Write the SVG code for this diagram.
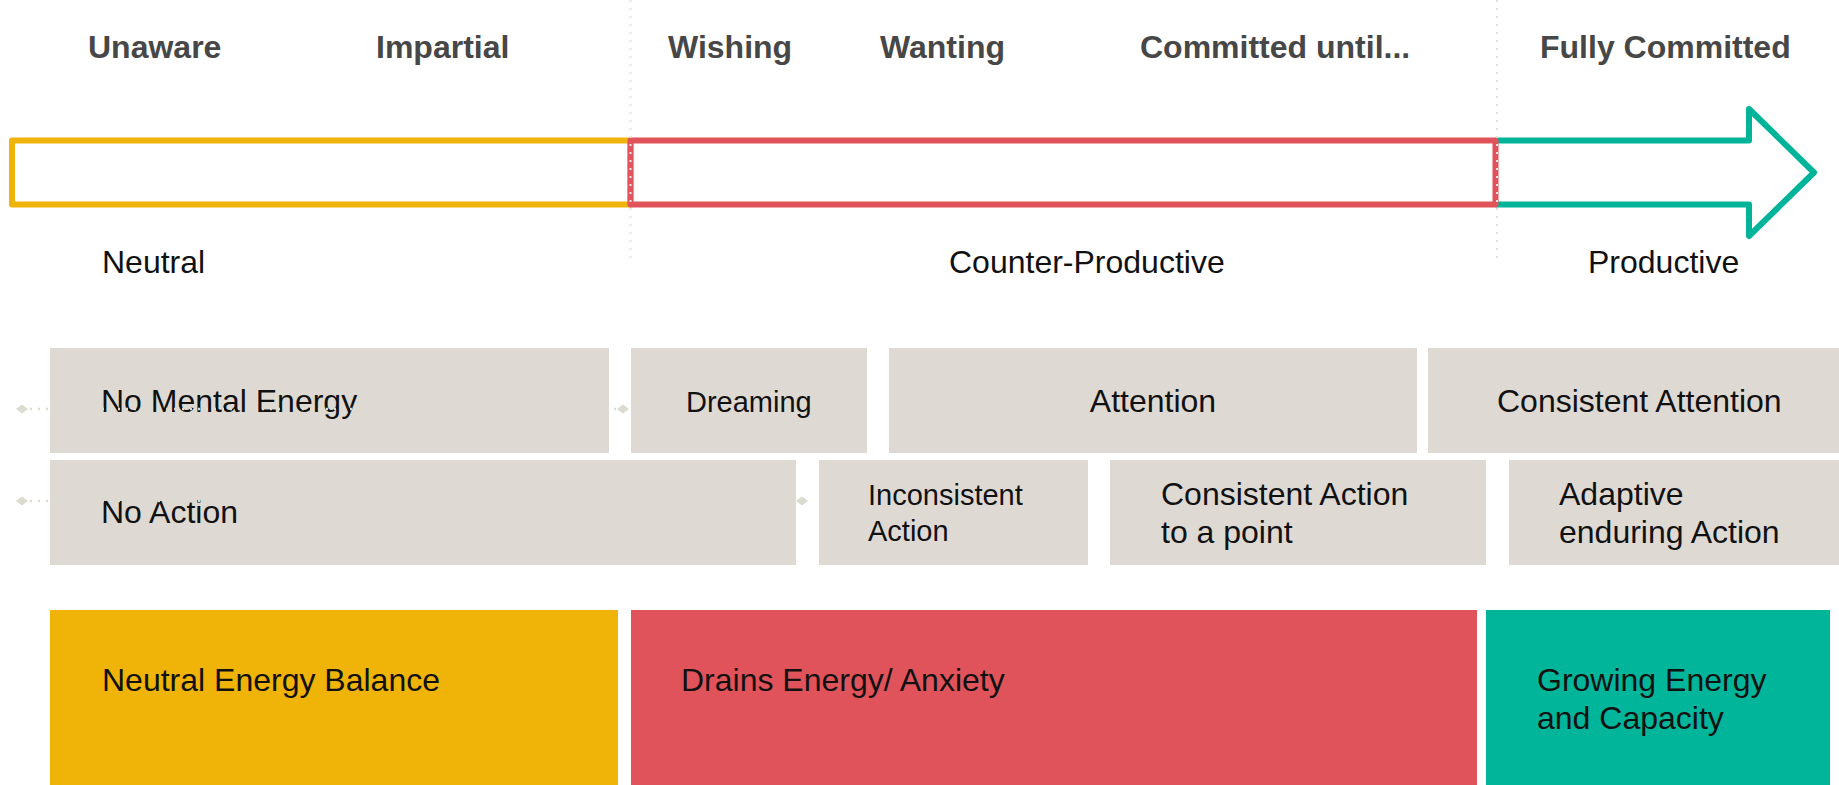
<svg xmlns="http://www.w3.org/2000/svg" width="1839" height="785" viewBox="0 0 1839 785">
  <defs>
    <style>
      .stage { font-family: "Liberation Sans", Arial, sans-serif; font-weight: bold; font-size: 32px; fill: #474747; }
      .zone { font-family: "Liberation Sans", Arial, sans-serif; font-size: 32px; fill: #111111; }
      .lbl { font-family: "Liberation Sans", Arial, sans-serif; font-size: 32px; fill: #111111; }
      .lbl.small { font-size: 29px; }
      .cell { fill: #DEDAD3; }
      .band { fill: none; stroke-width: 6; stroke-linejoin: round; }
      .divider { stroke: #E2E2DC; stroke-width: 2; stroke-dasharray: 2 6; }
      .link { fill: none; stroke: #DCDBCF; stroke-width: 2.5; stroke-dasharray: 2 6; marker-start: url(#dia); marker-end: url(#dia); }
    </style>
    <marker id="dia" viewBox="0 0 12 10" refX="6" refY="5" markerWidth="12" markerHeight="10" markerUnits="userSpaceOnUse" orient="auto">
      <path d="M0,5 L6,0.5 L12,5 L6,9.5 Z" fill="#DCDBCF"/>
    </marker>
  </defs>

  <rect width="1839" height="785" fill="#FFFFFF"/>

  <!-- stage headings -->
  <g id="stages">
    <text class="stage" x="88" y="58">Unaware</text>
    <text class="stage" x="376" y="58">Impartial</text>
    <text class="stage" x="668" y="58">Wishing</text>
    <text class="stage" x="880" y="58">Wanting</text>
    <text class="stage" x="1140" y="58">Committed until...</text>
    <text class="stage" x="1540" y="58">Fully Committed</text>
  </g>

  <!-- outlined progress band -->
  <g id="band">
    <path class="band" stroke="#00B49A" d="M1495.5,140.5 H1749 V109 L1814,172.5 L1749,236 V204.5 H1495.5"/>
    <rect class="band" stroke="#F0B30A" x="12" y="140.5" width="618.5" height="64"/>
    <rect class="band" stroke="#E1535B" x="630.5" y="140.5" width="865" height="64"/>
  </g>

  <!-- zone dividers -->
  <g id="dividers">
    <line class="divider" x1="630.5" y1="0" x2="630.5" y2="260"/>
    <line class="divider" x1="1497" y1="0" x2="1497" y2="260"/>
  </g>

  <!-- zone captions -->
  <g id="zones">
    <text class="zone" x="102" y="273">Neutral</text>
    <text class="zone" x="949" y="273">Counter-Productive</text>
    <text class="zone" x="1588" y="273">Productive</text>
  </g>

  <!-- attention row -->
  <g id="no-mental-energy">
    <rect class="cell" x="50" y="348" width="559" height="105"/>
    <text class="lbl" x="101" y="412">No Mental Energy</text>
  </g>
  <g id="dreaming">
    <rect class="cell" x="631" y="348" width="236" height="105"/>
    <text class="lbl small" x="686" y="412">Dreaming</text>
  </g>
  <g id="attention">
    <rect class="cell" x="889" y="348" width="528" height="105"/>
    <text class="lbl" x="1153" y="412" text-anchor="middle">Attention</text>
  </g>
  <g id="consistent-attention">
    <rect class="cell" x="1428" y="348" width="411" height="105"/>
    <text class="lbl" x="1497" y="412">Consistent Attention</text>
  </g>

  <!-- action row -->
  <g id="no-action">
    <rect class="cell" x="50" y="460" width="746" height="105"/>
    <text class="lbl" x="101" y="523">No Action</text>
  </g>
  <g id="inconsistent-action">
    <rect class="cell" x="819" y="460" width="269" height="105"/>
    <text class="lbl small" x="868" y="505">Inconsistent</text>
    <text class="lbl small" x="868" y="541">Action</text>
  </g>
  <g id="consistent-action">
    <rect class="cell" x="1110" y="460" width="376" height="105"/>
    <text class="lbl" x="1161" y="505">Consistent Action</text>
    <text class="lbl" x="1161" y="543">to a point</text>
  </g>
  <g id="adaptive-action">
    <rect class="cell" x="1509" y="460" width="330" height="105"/>
    <text class="lbl" x="1559" y="505">Adaptive</text>
    <text class="lbl" x="1559" y="543">enduring Action</text>
  </g>

  <!-- energy row -->
  <g id="neutral-energy">
    <rect x="50" y="610" width="568" height="175" fill="#F0B308"/>
    <text class="lbl" x="102" y="691">Neutral Energy Balance</text>
  </g>
  <g id="drains-energy">
    <rect x="631" y="610" width="846" height="175" fill="#E1535A"/>
    <text class="lbl" x="681" y="691">Drains Energy/ Anxiety</text>
  </g>
  <g id="growing-energy">
    <rect x="1486" y="610" width="344" height="175" fill="#00B59A"/>
    <text class="lbl" x="1537" y="691">Growing Energy</text>
    <text class="lbl" x="1537" y="729">and Capacity</text>
  </g>

  <!-- dotted span connectors -->
  <g id="connectors">
    <line class="link" x1="22" y1="409" x2="623" y2="409"/>
    <line class="link" x1="22" y1="501" x2="802" y2="501"/>
  </g>
</svg>
